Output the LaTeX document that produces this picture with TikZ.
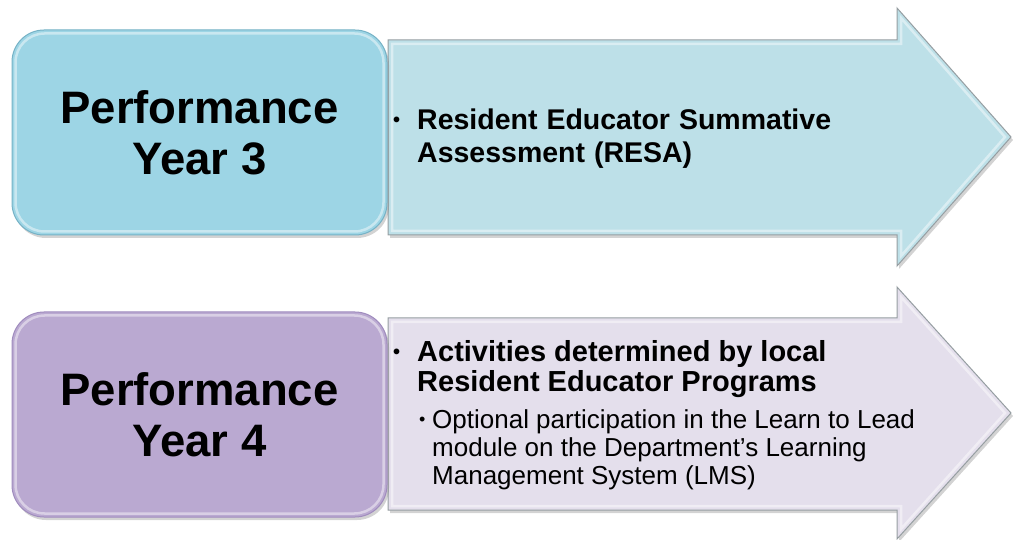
\documentclass[tikz,border=0pt]{standalone}
\usepackage{fontspec}
\setmainfont{Liberation Sans}
\usetikzlibrary{shadows}
\definecolor{boxA}{RGB}{157,213,229}
\definecolor{boxAline}{RGB}{118,178,198}
\definecolor{arrA}{RGB}{189,224,232}
\definecolor{boxB}{RGB}{186,169,209}
\definecolor{boxBline}{RGB}{160,140,190}
\definecolor{arrB}{RGB}{228,223,236}
\definecolor{arrline}{RGB}{150,158,162}
\newcommand{\wsp}{\hspace{9pt}}
\begin{document}
\begin{tikzpicture}[x=1pt,y=-1pt,
  yearbox/.style={draw, line width=1pt, rounded corners=32pt, minimum width=375pt, minimum height=205pt,
    align=center, inner sep=0pt, font=\bfseries\fontsize{45.5}{51}\selectfont,
    drop shadow={shadow xshift=2pt, shadow yshift=-3pt, opacity=0.35}},
  arrowshape/.style={draw=arrline, line width=1pt, line join=miter,
    drop shadow={shadow xshift=2pt, shadow yshift=-3pt, opacity=0.35}},
  bevel/.style={draw=white, line width=2.5pt, opacity=0.45},
  itemtext/.style={anchor=base west, inner sep=0pt}
]
\useasboundingbox (0,0) rectangle (1013,540);

% top row
\path[arrowshape, fill=arrA] (388,40) -- (897,40) -- (897,8) -- (1011,137) -- (897,266) -- (897,235) -- (388,235) -- cycle;
\draw[bevel] (392,44) -- (901,44) -- (901,18) -- (1005,137) -- (901,256) -- (901,231) -- (392,231) -- cycle;
\node[yearbox, fill=boxA, draw=boxAline] (p3) at (199.5,132.5) {Performance\\Year 3};
\draw[bevel, rounded corners=29pt] (15.5,33.5) rectangle (383.5,231.5);

\node[itemtext, font=\bfseries\fontsize{28.5}{33}\selectfont] (t3) at (393,130)
  {\makebox[24pt][l]{\fontsize{20}{20}\selectfont\raisebox{3pt}{•}}\begin{tabular}[t]{@{}l@{}}Resident\wsp Educator\wsp Summative\\Assessment\wsp (RESA)\end{tabular}};

% bottom row
\path[arrowshape, fill=arrB] (388,318) -- (897,318) -- (897,287) -- (1011,413) -- (897,539) -- (897,510) -- (388,510) -- cycle;
\draw[bevel] (392,322) -- (901,322) -- (901,297) -- (1005,413) -- (901,529) -- (901,506) -- (392,506) -- cycle;
\node[yearbox, fill=boxB, draw=boxBline] (p4) at (199.5,414.5) {Performance\\Year 4};
\draw[bevel, rounded corners=29pt] (15.5,315.5) rectangle (383.5,513.5);

\node[itemtext, font=\bfseries\fontsize{29}{28}\selectfont] (t4a) at (393,362)
  {\makebox[24pt][l]{\fontsize{20}{20}\selectfont\raisebox{3pt}{•}}\begin{tabular}[t]{@{}l@{}}Activities determined by local\\Resident Educator Programs\end{tabular}};
\node[itemtext, font=\fontsize{26}{28.5}\selectfont] (t4b) at (419,428)
  {\makebox[13pt][l]{\fontsize{18}{18}\selectfont\raisebox{2pt}{•}}\begin{tabular}[t]{@{}l@{}}Optional participation in the Learn to Lead\\module on the Department's Learning\\Management System (LMS)\end{tabular}};
\end{tikzpicture}
\end{document}
